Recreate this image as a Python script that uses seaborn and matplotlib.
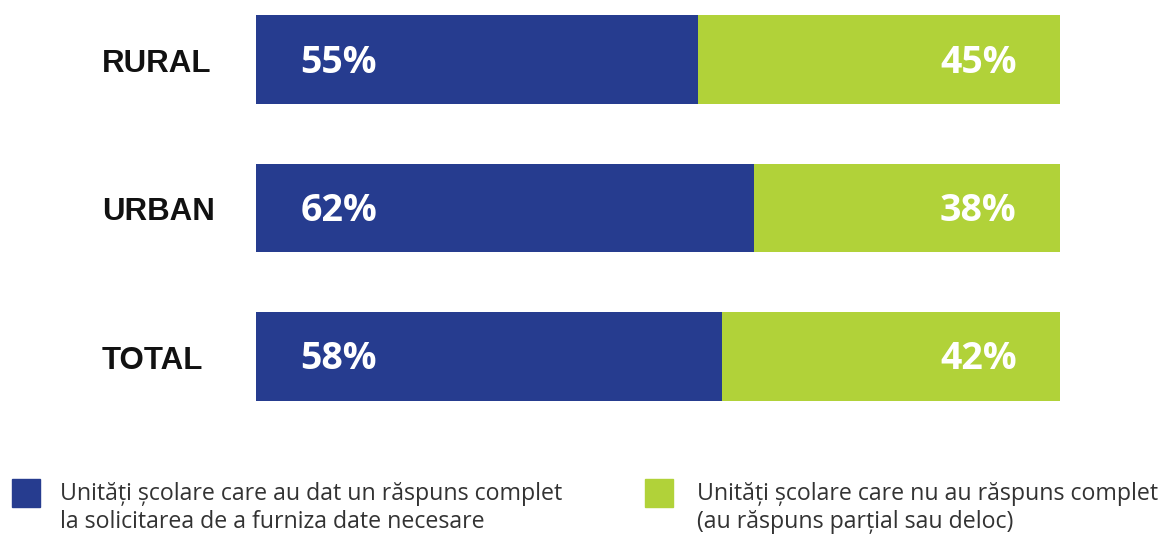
import matplotlib
matplotlib.use("Agg")
import matplotlib.pyplot as plt
import seaborn as sns
import pandas as pd
from matplotlib.patches import Rectangle

categories = ["RURAL", "URBAN", "TOTAL"]
complete = [55, 62, 58]
incomplete = [45, 38, 42]
legend_labels = [
    "Unități școlare care au dat un răspuns complet\nla solicitarea de a furniza date necesare",
    "Unități școlare care nu au răspuns complet\n(au răspuns parțial sau deloc)",
]

BLUE = "#263C8F"
GREEN = "#B1D239"

sns.set_theme(style="white")

df = pd.DataFrame({"cat": categories, "complete": complete, "incomplete": incomplete})
df["total"] = df["complete"] + df["incomplete"]

W, H = 1168, 534
fig = plt.figure(figsize=(W / 100, H / 100), dpi=100)
ax = fig.add_axes([256 / W, 1 - 401 / H, (1060 - 256) / W, (401 - 15) / H])

sns.barplot(data=df, x="total", y="cat", color=GREEN, orient="h", width=0.595,
            saturation=1, linewidth=0, edgecolor="none", ax=ax)
sns.barplot(data=df, x="complete", y="cat", color=BLUE, orient="h", width=0.595,
            saturation=1, linewidth=0, edgecolor="none", ax=ax)

ax.set_xlim(0, 100)
ax.set_ylim(2.3, -0.3)
ax.set_xlabel("")
ax.set_ylabel("")
ax.set_xticks([])
ax.set_yticks([])
for s in ax.spines.values():
    s.set_visible(False)

pct_font = dict(family="Open Sans", weight="bold", size=27, color="white")
for i, (c, n) in enumerate(zip(complete, incomplete)):
    ax.text(5.5, i + 0.02, f"{c}%", ha="left", va="center", **pct_font)
    ax.text(94.6, i + 0.02, f"{n}%", ha="right", va="center", **pct_font)
    ax.text(-19.2, i + 0.03, categories[i], ha="left", va="center",
            family="Liberation Sans", weight="bold", size=22.5, color="#111111",
            transform=ax.transData)

# legend
leg_font = dict(family="Open Sans", size=16.7, color="#333333", linespacing=1.2)
for (x0, x_text), col, lab in zip([(12, 60), (645, 697)], [BLUE, GREEN], legend_labels):
    fig.patches.append(Rectangle((x0 / W, 1 - 507 / H), 28 / W, 28 / H,
                                 transform=fig.transFigure, color=col))
    fig.text(x_text / W, 1 - 482 / H, lab, ha="left", va="top", **leg_font)

fig.savefig("out.png", dpi=100)
